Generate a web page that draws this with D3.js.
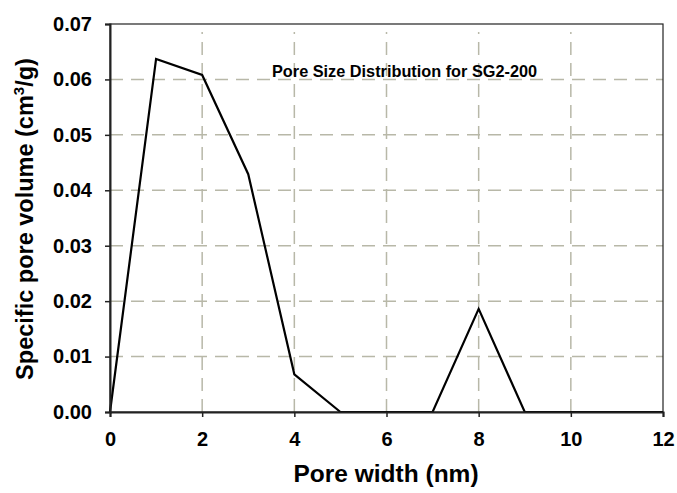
<!DOCTYPE html>
<html><head><meta charset="utf-8">
<script src="https://cdn.jsdelivr.net/npm/d3@7"></script>
<style>body{margin:0;background:#fff;}svg{display:block;font-family:"Liberation Sans",Arial,sans-serif;}</style>
</head><body>
<script>
const poreWidth = [0,1,2,3,4,5,6,7,8,9,10,11,12];
const poreVolume = [0,0.0637,0.0608,0.0429,0.0068,0,0,0,0.0186,0,0,0,0];
const xTicks = [0,2,4,6,8,10,12];
const yTicks = [0,0.01,0.02,0.03,0.04,0.05,0.06,0.07];
const chartTitle = "Pore Size Distribution for SG2-200";

const W=677,H=493;
const m={left:110,right:14,top:24,bottom:81};
const svg=d3.select("body").append("svg").attr("width",W).attr("height",H);
const x=d3.scaleLinear().domain([0,12]).range([m.left,W-m.right]);
const y=d3.scaleLinear().domain([0,0.07]).range([H-m.bottom,m.top]);

const grid=svg.append("g").attr("stroke","#b8b8a8").attr("stroke-width",1.5).attr("stroke-dasharray","13,8");
grid.selectAll(".h").data(yTicks.filter(d=>d>0&&d<0.07)).join("line")
 .attr("x1",x(0)).attr("x2",x(12)).attr("y1",d=>y(d)).attr("y2",d=>y(d));
grid.selectAll(".v").data(xTicks.filter(d=>d>0&&d<12)).join("line")
 .attr("y1",y(0)).attr("y2",y(0.07)+8).attr("x1",d=>x(d)).attr("x2",d=>x(d));

svg.append("rect").attr("x",x(0)).attr("y",y(0.07)).attr("width",x(12)-x(0)).attr("height",y(0)-y(0.07))
 .attr("fill","none").attr("stroke","#222").attr("stroke-width",1.2);

svg.append("text").attr("x",272).attr("y",77).attr("font-size",16.3).attr("font-weight","bold").attr("fill","#000").text(chartTitle);

const line=d3.line().x((d,i)=>x(poreWidth[i])).y(d=>y(d));
svg.append("path").datum(poreVolume).attr("d",line).attr("fill","none").attr("stroke","#000").attr("stroke-width",2.2);

const xa=svg.append("g").attr("transform",`translate(0,${y(0)})`)
 .call(d3.axisBottom(x).tickValues(xTicks).tickSize(5).tickPadding(15).tickFormat(d3.format("d")));
const ya=svg.append("g").attr("transform",`translate(${x(0)},0)`)
 .call(d3.axisLeft(y).tickValues(yTicks).tickSize(5).tickPadding(13).tickFormat(d3.format(".2f")));
[xa,ya].forEach(a=>{
 a.select(".domain").attr("stroke","#222").attr("stroke-width",2);
 a.selectAll(".tick line").attr("stroke","#222").attr("stroke-width",1.5);
 a.selectAll("text").attr("font-size",20).attr("font-weight","bold").attr("fill","#000").attr("font-family","Liberation Sans, Arial, sans-serif");
});

svg.append("text").attr("x",386).attr("y",482).attr("text-anchor","middle").attr("font-size",24.5).attr("font-weight","bold").text("Pore width (nm)");
const yt=svg.append("text").attr("transform",`translate(33,${219}) rotate(-90)`).attr("text-anchor","middle").attr("font-size",23.5).attr("font-weight","bold");
yt.append("tspan").text("Specific pore volume (cm");
yt.append("tspan").attr("font-size",15).attr("dy",-9).text("3");
yt.append("tspan").attr("dy",9).text("/g)");
</script>
</body></html>
